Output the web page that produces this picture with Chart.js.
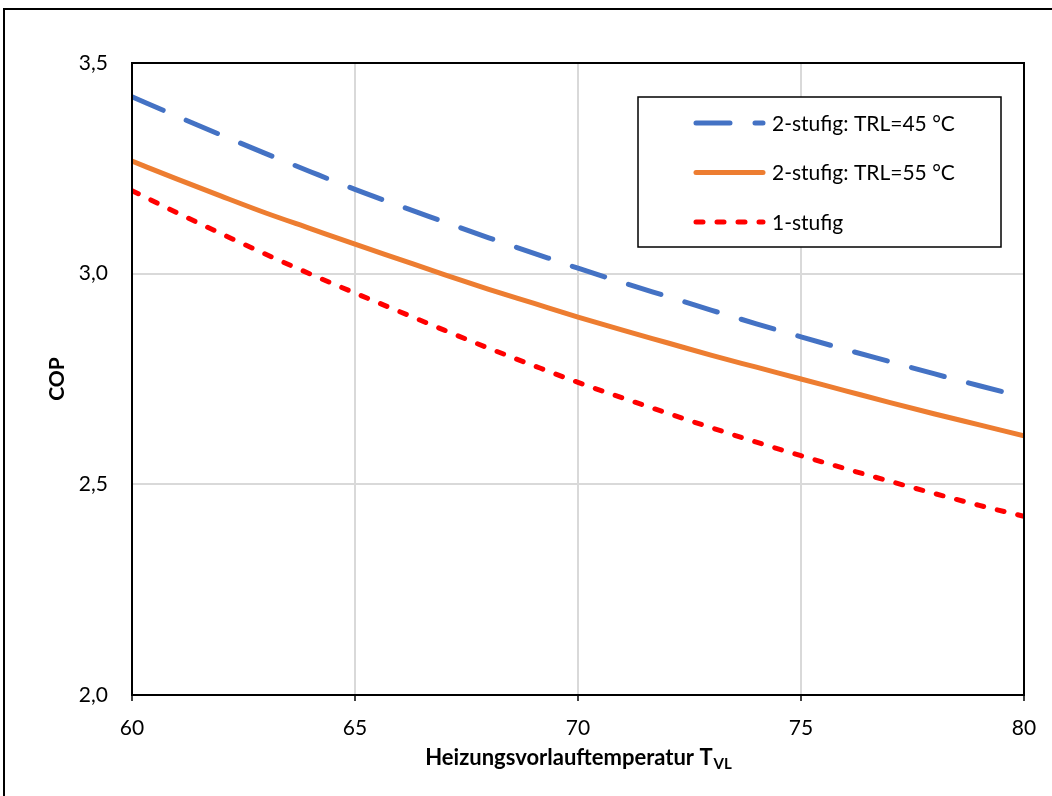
<!DOCTYPE html>
<html>
<head>
<meta charset="utf-8">
<script src="https://cdn.jsdelivr.net/npm/chart.js@4.4.1/dist/chart.umd.min.js"></script>
<style>
  html, body { margin: 0; padding: 0; background: #fff; }
  #wrap { position: relative; width: 1052px; height: 796px; }
</style>
</head>
<body>
<div id="wrap"><canvas id="c" width="1052" height="796"></canvas></div>
<script>
// ---- data ----
const temperatures = [60,61,62,63,64,65,66,67,68,69,70,71,72,73,74,75,76,77,78,79,80];
const copTRL45 = [3.420,3.374,3.329,3.285,3.242,3.200,3.161,3.123,3.085,3.049,3.013,2.979,2.946,2.913,2.881,2.850,2.820,2.791,2.762,2.734,2.707];
const copTRL55 = [3.267,3.225,3.184,3.144,3.107,3.070,3.034,2.998,2.963,2.930,2.897,2.866,2.836,2.806,2.778,2.750,2.722,2.694,2.667,2.641,2.615];
const cop1stufig = [3.197,3.145,3.095,3.046,2.999,2.954,2.910,2.866,2.823,2.782,2.742,2.705,2.669,2.634,2.600,2.568,2.537,2.507,2.478,2.450,2.424];
const seriesLabels = ['2-stufig: TRL=45 °C', '2-stufig: TRL=55 °C', '1-stufig'];
const xTitle = 'Heizungsvorlauftemperatur T';
const xTitleSub = 'VL';
const yTitle = 'COP';

const FONT = 'Lato';
const toPts = arr => arr.map((v, i) => ({ x: temperatures[i], y: v }));

const framePlugin = {
  id: 'frame',
  afterDraw(chart) {
    const ctx = chart.ctx;
    const a = chart.chartArea;
    ctx.save();
    // outer frame
    ctx.strokeStyle = '#000';
    ctx.lineWidth = 2;
    ctx.beginPath();
    ctx.moveTo(4, 900);
    ctx.lineTo(4, 9);
    ctx.lineTo(1100, 9);
    ctx.stroke();
    // plot border
    ctx.lineWidth = 2;
    ctx.strokeRect(a.left, a.top, a.right - a.left, a.bottom - a.top);

    // x axis title with subscript
    ctx.fillStyle = '#000';
    ctx.textBaseline = 'alphabetic';
    ctx.textAlign = 'left';
    const mainFont = 'bold 22px ' + FONT;
    const subFont = 'bold 15px ' + FONT;
    ctx.font = mainFont;
    const w1 = ctx.measureText(xTitle).width;
    ctx.font = subFont;
    const w2 = ctx.measureText(xTitleSub).width;
    const cx = (a.left + a.right) / 2;
    let x0 = cx - (w1 + w2) / 2;
    ctx.font = mainFont;
    ctx.fillText(xTitle, x0, 765);
    ctx.font = subFont;
    ctx.fillText(xTitleSub, x0 + w1 + 1, 769);

    // legend box
    const bx = 638, by = 97, bw = 363, bh = 150;
    ctx.fillStyle = '#fff';
    ctx.fillRect(bx, by, bw, bh);
    ctx.strokeStyle = '#000';
    ctx.lineWidth = 1.5;
    ctx.strokeRect(bx, by, bw, bh);
    chart.data.datasets.forEach((ds, i) => {
      const y = 123 + i * 49.5;
      ctx.save();
      ctx.strokeStyle = ds.borderColor;
      ctx.lineWidth = ds.borderWidth;
      ctx.lineCap = 'round';
      ctx.setLineDash(ds.borderDash || []);
      ctx.beginPath();
      ctx.moveTo(696, y);
      ctx.lineTo(763, y);
      ctx.stroke();
      ctx.restore();
      ctx.fillStyle = '#000';
      ctx.font = '21px ' + FONT;
      ctx.textBaseline = 'middle';
      ctx.fillText(ds.label, 772, y + 1);
    });
    ctx.restore();
  }
};

new Chart(document.getElementById('c'), {
  type: 'line',
  data: {
    datasets: [
      { label: seriesLabels[0], data: toPts(copTRL45), borderColor: '#4472C4', borderWidth: 5,
        borderDash: [34, 25], borderCapStyle: 'round', pointRadius: 0, cubicInterpolationMode: 'monotone', fill: false },
      { label: seriesLabels[1], data: toPts(copTRL55), borderColor: '#ED7D31', borderWidth: 5,
        borderCapStyle: 'round', pointRadius: 0, cubicInterpolationMode: 'monotone', fill: false },
      { label: seriesLabels[2], data: toPts(cop1stufig), borderColor: '#FF0000', borderWidth: 5,
        borderDash: [7, 14], borderCapStyle: 'round', pointRadius: 0, cubicInterpolationMode: 'monotone', fill: false }
    ]
  },
  options: {
    responsive: false,
    animation: false,
    layout: { padding: { top: 63, right: 28, left: 0, bottom: 0 } },
    plugins: { legend: { display: false }, tooltip: { enabled: false } },
    scales: {
      x: {
        type: 'linear', min: 60, max: 80,
        ticks: { stepSize: 5, color: '#000', font: { family: FONT, size: 21 }, padding: 15, maxRotation: 0 },
        grid: { color: '#d9d9d9', lineWidth: 2, tickLength: 6, tickColor: '#000', tickWidth: 1.5 },
        border: { display: true, color: '#000', width: 2 },
        afterFit(s) { s.height = 101; }
      },
      y: {
        type: 'linear', min: 2, max: 3.5,
        ticks: { stepSize: 0.5, color: '#000', font: { family: FONT, size: 21 }, padding: 24,
          callback: v => v.toFixed(1).replace('.', ',') },
        grid: { color: '#d9d9d9', lineWidth: 2, drawTicks: false },
        border: { display: true, color: '#000', width: 2 },
        title: { display: true, text: yTitle, color: '#000', font: { family: FONT, size: 21, weight: 'bold' }, padding: { top: 45, bottom: 0 } },
        afterFit(s) { s.width = 132; }
      }
    }
  },
  plugins: [framePlugin]
});
</script>
</body>
</html>
